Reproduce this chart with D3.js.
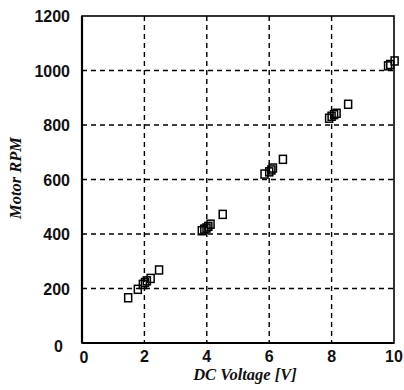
<!DOCTYPE html>
<html><head><meta charset="utf-8">
<script src="https://cdn.jsdelivr.net/npm/d3@7"></script>
<style>body{margin:0;background:#fff}svg{display:block}</style>
</head><body>
<svg id="c" width="404" height="390"></svg>
<script>
const voltage = [1.48,1.79,1.95,2.02,2.08,2.2,2.47, 3.84,3.92,3.99,4.05,4.12,4.51, 5.85,6.0,6.07,6.12,6.44, 7.92,8.0,8.08,8.16,8.53, 9.81,9.88,10.02];
const rpm     = [166,197,215,222,228,237,268, 412,418,422,428,436,472, 620,628,635,642,674, 825,832,838,843,876, 1017,1022,1035];
const xTicks = [0,2,4,6,8,10];
const yTicks = [0,200,400,600,800,1000,1200];
const xLabel = "DC Voltage [V]";
const yLabel = "Motor RPM";

const svg = d3.select("#c");
const L=82, R=394, T=16, B=343;
const x = d3.scaleLinear().domain([0,10]).range([L,R]);
const y = d3.scaleLinear().domain([0,1200]).range([B,T]);

// grid
svg.append("g").selectAll("line").data(xTicks.filter(d=>d>0&&d<10)).join("line")
  .attr("x1",d=>x(d)).attr("x2",d=>x(d)).attr("y1",T).attr("y2",B)
  .attr("stroke","#000").attr("stroke-width",1.4).attr("stroke-dasharray","5,4");
svg.append("g").selectAll("line").data(yTicks.filter(d=>d>0&&d<1200)).join("line")
  .attr("y1",d=>y(d)).attr("y2",d=>y(d)).attr("x1",L).attr("x2",R)
  .attr("stroke","#000").attr("stroke-width",1.4).attr("stroke-dasharray","5,4");

// frame
svg.append("rect").attr("x",L).attr("y",T).attr("width",R-L).attr("height",B-T)
  .attr("fill","none").attr("stroke","#000").attr("stroke-width",1.6);
svg.append("line").attr("x1",L).attr("x2",L).attr("y1",T).attr("y2",B).attr("stroke","#000").attr("stroke-width",2.2);
svg.append("line").attr("x1",L).attr("x2",R).attr("y1",B).attr("y2",B).attr("stroke","#000").attr("stroke-width",2.2);

// axes labels
const font = "Liberation Sans, Arial, sans-serif";
svg.append("g").selectAll("text").data(xTicks).join("text")
  .attr("x",d=>x(d)+(d===0?2:0)).attr("y",d=>d===0?363:362)
  .attr("text-anchor","middle").attr("font-family",font).attr("font-size",16).attr("font-weight","bold")
  .attr("fill","#111").text(d=>d);
svg.append("g").selectAll("text").data(yTicks).join("text")
  .attr("x",d=>d===0?63:70).attr("y",d=>y(d)+(d===0?9:6))
  .attr("text-anchor","end").attr("font-family",font).attr("font-size",16).attr("font-weight","bold")
  .attr("fill","#111").text(d=>d);

svg.append("text").attr("x",245).attr("y",380).attr("text-anchor","middle")
  .attr("font-family","Liberation Serif, Times New Roman, serif").attr("font-style","italic").attr("font-weight","bold")
  .attr("font-size",16.5).attr("fill","#111").text(xLabel);
svg.append("text").attr("transform","translate(21,178) rotate(-90)").attr("text-anchor","middle")
  .attr("font-family","Liberation Serif, Times New Roman, serif").attr("font-style","italic").attr("font-weight","bold")
  .attr("font-size",16.5).attr("fill","#111").text(yLabel);

// points
const pts = voltage.map((v,i)=>({v, r:rpm[i]}));
svg.append("g").selectAll("rect").data(pts).join("rect")
  .attr("x",d=>x(d.v)-3.5).attr("y",d=>y(d.r)-4).attr("width",7).attr("height",8)
  .attr("fill","none").attr("stroke","#000").attr("stroke-width",1.5);
</script>
</body></html>
